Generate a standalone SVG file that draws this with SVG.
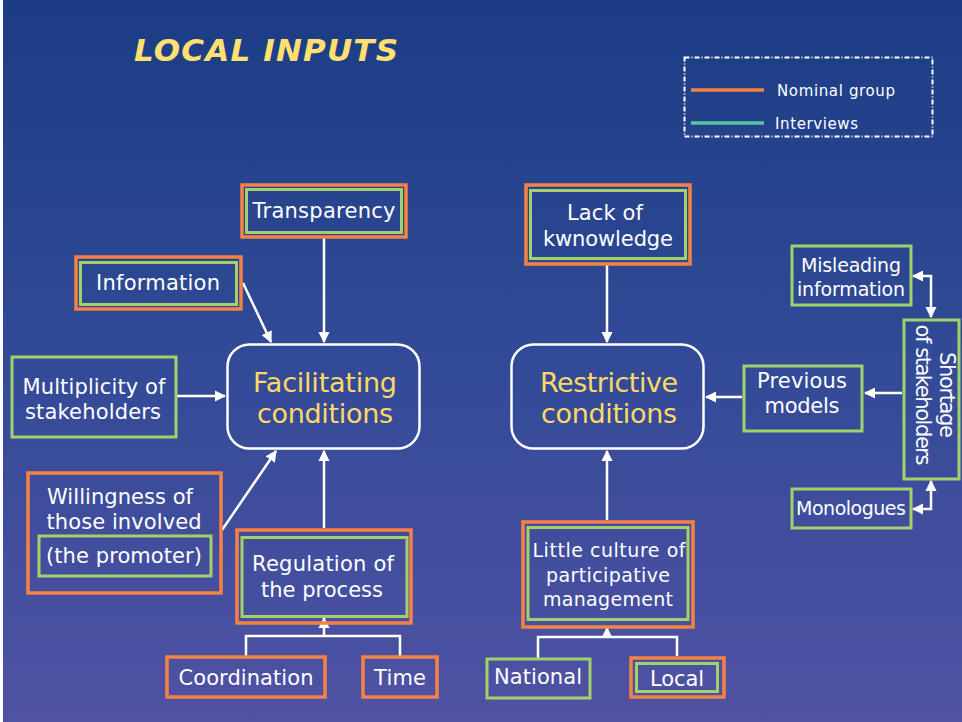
<svg xmlns="http://www.w3.org/2000/svg" width="962" height="722" viewBox="0 0 962 722">
  <defs>
    <linearGradient id="bg" x1="0" y1="0" x2="0" y2="1">
      <stop offset="0" stop-color="#1b3d84"/>
      <stop offset="0.5" stop-color="#324a97"/>
      <stop offset="1" stop-color="#5052a3"/>
    </linearGradient>
    <marker id="arrow" viewBox="0 0 10 10" refX="9" refY="5" markerWidth="4.6" markerHeight="4.6" orient="auto-start-reverse" markerUnits="strokeWidth">
      <path d="M0,0 L10,5 L0,10 z" fill="#ffffff"/>
    </marker>
    <style>
      text { font-family: "DejaVu Sans", Verdana, sans-serif; fill: #ffffff; text-anchor: middle; }
      .t { font-size: 21px; }
      .s { font-size: 19px; }
      .big { font-size: 27px; fill: #ffd966; }
      .orange { fill: none; stroke: #f58244; stroke-width: 3.5; }
      .green { fill: none; stroke: #a4d06c; stroke-width: 3; }
      .main { fill: none; stroke: #ffffff; stroke-width: 2.5; }
      .conn { fill: none; stroke: #ffffff; stroke-width: 2.5; }
      .arr { marker-end: url(#arrow); }
      .both { marker-start: url(#arrow); marker-end: url(#arrow); }
    </style>
  </defs>

  <rect x="0" y="0" width="962" height="722" fill="url(#bg)"/>
  <rect x="0" y="0" width="3" height="722" fill="#ffffff"/>

  <!-- title -->
  <text x="266" y="61" style="font-size:31px;font-weight:bold;font-style:italic;fill:#ffe070" textLength="264" lengthAdjust="spacing">LOCAL INPUTS</text>

  <!-- legend -->
  <g id="legend">
    <rect x="684.5" y="57.5" width="248" height="79" fill="none" stroke="#ffffff" stroke-width="2" stroke-dasharray="5,2,1,2"/>
    <line x1="691" y1="90" x2="764" y2="90" stroke="#f58244" stroke-width="3.5"/>
    <text x="777" y="96" style="font-size:15px;text-anchor:start" textLength="118" lengthAdjust="spacing">Nominal group</text>
    <line x1="691" y1="123" x2="764" y2="123" stroke="#5cc49a" stroke-width="3.5"/>
    <text x="775" y="129" style="font-size:15px;text-anchor:start" textLength="83" lengthAdjust="spacing">Interviews</text>
  </g>

  <!-- connectors -->
  <g id="connectors">
    <line class="conn arr" x1="324" y1="238" x2="324" y2="342"/>
    <line class="conn arr" x1="243" y1="283" x2="271" y2="342"/>
    <line class="conn arr" x1="177" y1="396" x2="225" y2="396"/>
    <line class="conn arr" x1="222" y1="530" x2="276" y2="451"/>
    <line class="conn arr" x1="324" y1="528" x2="324" y2="451"/>
    <polyline class="conn" points="246,656 246,636 400,636 400,656"/>
    <line class="conn arr" x1="324" y1="637" x2="324" y2="618"/>

    <line class="conn arr" x1="607" y1="265" x2="607" y2="342"/>
    <line class="conn arr" x1="607" y1="520" x2="607" y2="451"/>
    <polyline class="conn" points="538,658 538,637 677,637 677,656"/>
    <line class="conn arr" x1="607" y1="638" x2="607" y2="628"/>
    <line class="conn arr" x1="742" y1="397" x2="706" y2="397"/>
    <line class="conn arr" x1="902" y1="393" x2="865" y2="393"/>
    <polyline class="conn both" points="913,276 931,276 931,317"/>
    <polyline class="conn both" points="913,509 931,509 931,481"/>
  </g>

  <!-- facilitating side -->
  <g id="facilitating">
    <rect class="main" x="227.5" y="344.5" width="192" height="104" rx="22"/>
    <text class="big" x="325" y="392" textLength="144" lengthAdjust="spacing">Facilitating</text>
    <text class="big" x="325" y="423" textLength="136" lengthAdjust="spacing">conditions</text>
  </g>

  <g id="transparency">
    <rect class="orange" x="242" y="185" width="164" height="52"/>
    <rect class="green" x="246.5" y="189.5" width="155" height="43"/>
    <text class="t" x="324" y="218" textLength="143" lengthAdjust="spacing">Transparency</text>
  </g>

  <g id="information">
    <rect class="orange" x="76" y="257" width="165" height="52"/>
    <rect class="green" x="80.5" y="262.5" width="156" height="42"/>
    <text class="t" x="158" y="290" textLength="124" lengthAdjust="spacing">Information</text>
  </g>

  <g id="multiplicity">
    <rect class="green" x="12" y="357" width="164" height="80"/>
    <text class="t" x="94" y="394" textLength="143" lengthAdjust="spacing">Multiplicity of</text>
    <text class="t" x="93" y="419" textLength="136" lengthAdjust="spacing">stakeholders</text>
  </g>

  <g id="willingness">
    <rect class="orange" x="28" y="473" width="193" height="120"/>
    <text class="t" x="120" y="504" textLength="146" lengthAdjust="spacing">Willingness of</text>
    <text class="t" x="124" y="529" textLength="155" lengthAdjust="spacing">those involved</text>
    <rect class="green" x="39" y="536" width="172" height="40"/>
    <text class="t" x="124" y="563" textLength="156" lengthAdjust="spacing">(the promoter)</text>
  </g>

  <g id="regulation">
    <rect class="orange" x="237" y="530" width="174" height="93"/>
    <rect class="green" x="242" y="537.5" width="165" height="79"/>
    <text class="t" x="323" y="571" textLength="142" lengthAdjust="spacing">Regulation of</text>
    <text class="t" x="322" y="597" textLength="122" lengthAdjust="spacing">the process</text>
  </g>

  <g id="coordination">
    <rect class="orange" x="167" y="657" width="158" height="40"/>
    <text class="t" x="246" y="685" textLength="135" lengthAdjust="spacing">Coordination</text>
  </g>

  <g id="time">
    <rect class="orange" x="363" y="657" width="74" height="40"/>
    <text class="t" x="400" y="685" textLength="52" lengthAdjust="spacing">Time</text>
  </g>

  <!-- restrictive side -->
  <g id="restrictive">
    <rect class="main" x="511.5" y="344.5" width="192" height="104" rx="22"/>
    <text class="big" x="609" y="392" textLength="138" lengthAdjust="spacing">Restrictive</text>
    <text class="big" x="609" y="423" textLength="136" lengthAdjust="spacing">conditions</text>
  </g>

  <g id="lack">
    <rect class="orange" x="526" y="185" width="164" height="79"/>
    <rect class="green" x="530.5" y="190.5" width="155" height="68"/>
    <text class="t" x="605" y="220" textLength="76" lengthAdjust="spacing">Lack of</text>
    <text class="t" x="608" y="246" textLength="130" lengthAdjust="spacing">kwnowledge</text>
  </g>

  <g id="previous">
    <rect class="green" x="744" y="366" width="118" height="65"/>
    <text class="t" x="802" y="388" textLength="90" lengthAdjust="spacing">Previous</text>
    <text class="t" x="802" y="413" textLength="75" lengthAdjust="spacing">models</text>
  </g>

  <g id="shortage">
    <rect class="green" x="904" y="320" width="55" height="159"/>
    <text class="t" transform="translate(940,395) rotate(90)" textLength="86" lengthAdjust="spacing">Shortage</text>
    <text class="t" transform="translate(916,395) rotate(90)" textLength="141" lengthAdjust="spacing">of stakeholders</text>
  </g>

  <g id="misleading">
    <rect class="green" x="792" y="246" width="119" height="59"/>
    <text class="s" x="851" y="272" textLength="100" lengthAdjust="spacing">Misleading</text>
    <text class="s" x="851" y="296" textLength="108" lengthAdjust="spacing">information</text>
  </g>

  <g id="monologues">
    <rect class="green" x="792" y="489" width="119" height="39"/>
    <text class="s" x="851" y="515" textLength="110" lengthAdjust="spacing">Monologues</text>
  </g>

  <g id="culture">
    <rect class="orange" x="523" y="522" width="170" height="105"/>
    <rect class="green" x="528" y="527.5" width="160" height="92"/>
    <text class="s" x="609" y="557" textLength="153" lengthAdjust="spacing">Little culture of</text>
    <text class="s" x="608" y="582" textLength="124" lengthAdjust="spacing">participative</text>
    <text class="s" x="608" y="606" textLength="130" lengthAdjust="spacing">management</text>
  </g>

  <g id="national">
    <rect class="green" x="487" y="659" width="103" height="39"/>
    <text class="t" x="538" y="684" textLength="88" lengthAdjust="spacing">National</text>
  </g>

  <g id="local">
    <rect class="orange" x="631" y="658" width="93" height="39"/>
    <rect class="green" x="636.5" y="663.5" width="81" height="28"/>
    <text class="t" x="677" y="686" textLength="54" lengthAdjust="spacing">Local</text>
  </g>
</svg>
